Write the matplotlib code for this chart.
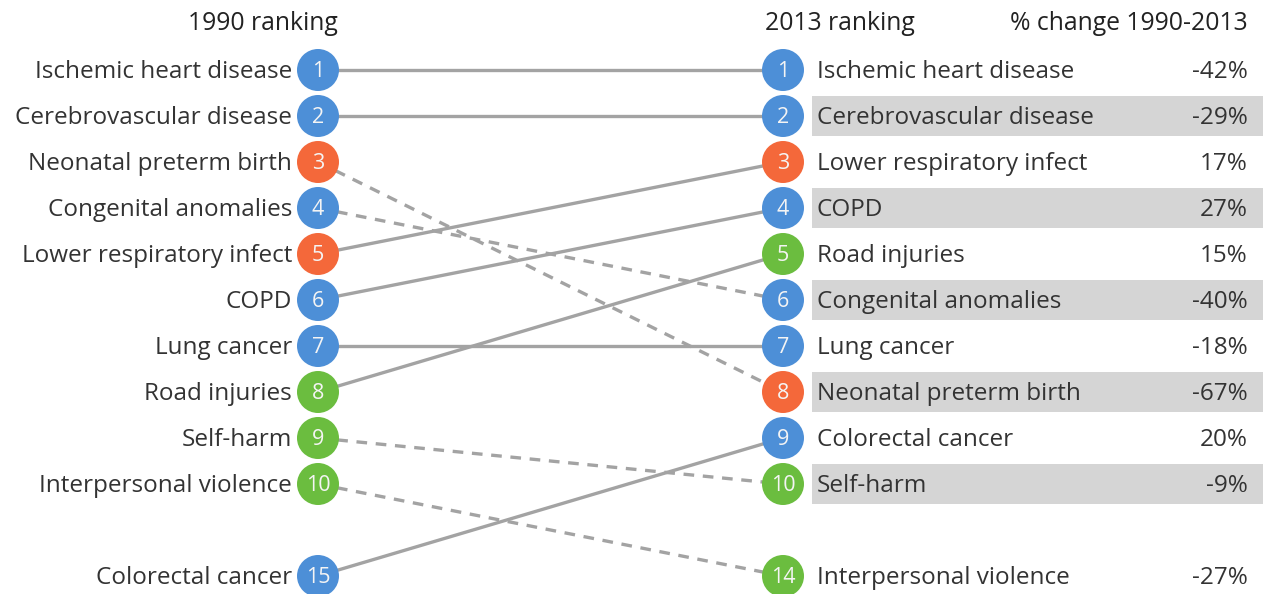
import matplotlib
matplotlib.use("Agg")
import matplotlib.pyplot as plt
from matplotlib.patches import Circle, Rectangle

# ---- data ----
causes = ["Ischemic heart disease", "Cerebrovascular disease", "Neonatal preterm birth",
          "Congenital anomalies", "Lower respiratory infect", "COPD", "Lung cancer",
          "Road injuries", "Self-harm", "Interpersonal violence", "Colorectal cancer"]
rank_1990 = [1, 2, 3, 4, 5, 6, 7, 8, 9, 10, 15]
rank_2013 = [1, 2, 8, 6, 3, 4, 7, 5, 10, 14, 9]
pct_change = [-42, -29, -67, -40, 17, 27, -18, 15, -9, -27, 20]
group = ["ncd", "ncd", "comm", "ncd", "comm", "ncd", "ncd", "inj", "inj", "inj", "ncd"]

header_left = "1990 ranking"
header_mid = "2013 ranking"
header_right = "% change 1990-2013"

# ---- style ----
colors = {"ncd": "#4d8fd7", "comm": "#f4683a", "inj": "#6bbd3f"}
FONT = "Open Sans"
W, H = 1263, 594
X_LEFT, X_RIGHT = 318, 783
Y0, DY = 70, 46
R = 21


def row_y(rank):
    idx = rank - 1 if rank <= 10 else 11
    return Y0 + idx * DY


fig = plt.figure(figsize=(W / 100, H / 100), dpi=100)
ax = fig.add_axes([0, 0, 1, 1])
ax.set_xlim(0, W)
ax.set_ylim(H, 0)
ax.axis("off")

txt = dict(family=FONT, color="#333333", fontsize=17.5, va="center")
hdr = dict(family=FONT, color="#222222", fontsize=17.8, va="center")

# headers
ax.text(X_LEFT + 20, 24, header_left, ha="right", **hdr)
ax.text(X_RIGHT - 18, 24, header_mid, ha="left", **hdr)
ax.text(1248, 24, header_right, ha="right", **hdr)

# bands on the right for even ranks
for r in sorted(rank_2013):
    if r <= 10 and r % 2 == 0:
        y = row_y(r)
        ax.add_patch(Rectangle((812, y - 20), W - 812, 40, facecolor="#d5d5d5",
                               edgecolor="none", zorder=0))

for name, r1, r2, p, g in zip(causes, rank_1990, rank_2013, pct_change, group):
    y1, y2 = row_y(r1), row_y(r2)
    ls = (0, (3.2, 2.6)) if r2 > r1 else "-"
    ax.plot([X_LEFT, X_RIGHT], [y1, y2], color="#a3a3a3", lw=2.4, ls=ls, zorder=1,
            solid_capstyle="butt")
    c = colors[g]
    for x, y, r in [(X_LEFT, y1, r1), (X_RIGHT, y2, r2)]:
        ax.add_patch(Circle((x, y), R, facecolor=c, edgecolor="none", zorder=2))
        ax.text(x, y + 1.5, str(r), ha="center", va="center", family=FONT,
                fontsize=15.5, color="#f4f4f4", zorder=3)
    ax.text(X_LEFT - 26, y1 + 2, name, ha="right", **txt)
    ax.text(817, y2 + 2, name, ha="left", **txt)
    ax.text(1248, y2 + 2, f"{p}%", ha="right", **txt)

fig.savefig("out.png", dpi=100)
